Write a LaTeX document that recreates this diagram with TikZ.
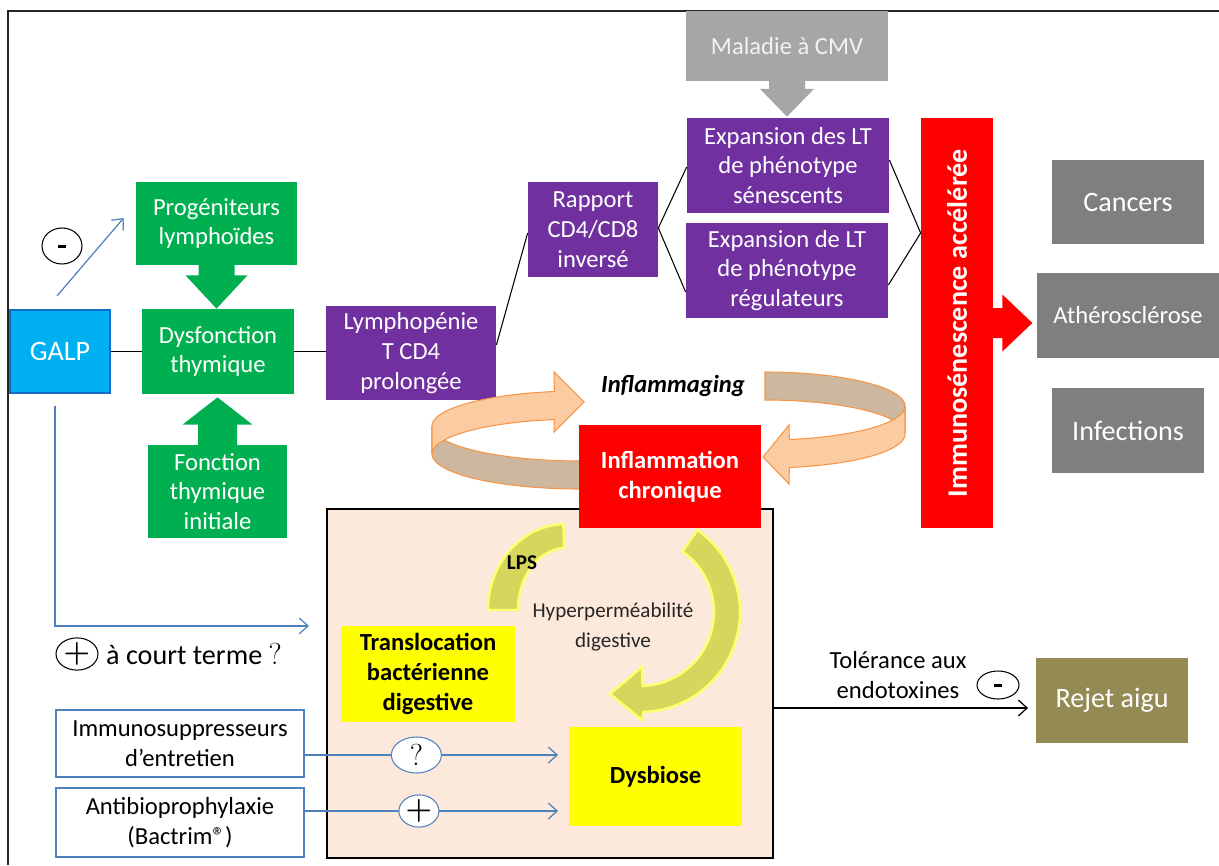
\documentclass[tikz,border=0pt]{standalone}
\usepackage{amsmath}
\usepackage{fontspec}
\setmainfont{Carlito}
\usetikzlibrary{arrows.meta, positioning, shapes.geometric, calc}
\definecolor{galpblue}{RGB}{0,176,240}
\definecolor{galpedge}{RGB}{20,110,200}
\definecolor{thymgreen}{RGB}{0,176,80}
\definecolor{lymphpurple}{RGB}{112,48,160}
\definecolor{cmvgray}{RGB}{166,166,166}
\definecolor{outgray}{RGB}{127,127,127}
\definecolor{inflred}{RGB}{255,0,0}
\definecolor{gutpeach}{RGB}{252,233,219}
\definecolor{gutyellow}{RGB}{255,255,0}
\definecolor{rejetolive}{RGB}{148,138,84}
\definecolor{ribbontan}{RGB}{205,183,158}
\definecolor{ribbonorange}{RGB}{251,203,162}
\definecolor{ribbonedge}{RGB}{247,150,70}
\definecolor{arcolive}{RGB}{214,214,92}
\definecolor{arcglow}{RGB}{255,255,110}
\definecolor{lineblue}{RGB}{79,129,189}
\tikzset{
  wh/.style 2 args = {minimum width=#1*0.02cm, minimum height=#2*0.02cm},
  box/.style       = {rectangle, align=center, inner sep=2pt, text=white,
                      font=\fontsize{14}{17}\selectfont},
  galpbox/.style   = {box, fill=galpblue, draw=galpedge, line width=1.2pt,
                      font=\fontsize{16}{19}\selectfont},
  thym/.style      = {box, fill=thymgreen},
  lymph/.style     = {box, fill=lymphpurple},
  outcome/.style   = {box, fill=outgray, font=\fontsize{16}{19}\selectfont},
  gutbox/.style    = {box, fill=gutyellow, text=black, font=\fontsize{14}{17}\selectfont\bfseries},
  treat/.style     = {box, fill=white, text=black, draw=lineblue, line width=1.2pt},
  link/.style      = {draw=black, line width=0.6pt},
  bluearrow/.style = {-{Straight Barb[length=5pt,width=9pt]}, draw=lineblue, line width=0.7pt},
  blackarrow/.style= {-{Straight Barb[length=5pt,width=9pt]}, draw=black, line width=0.7pt},
  sign/.style      = {ellipse, draw, fill=white, inner sep=0pt, line width=0.6pt},
  ribbon/.style    = {draw=ribbonedge, line width=0.6pt},
  gutarc/.style    = {fill=arcolive, draw=arcglow, line width=1.4pt},
}

\begin{document}
\begin{tikzpicture}[x=0.02cm, y=-0.02cm]
  \useasboundingbox (0,0) rectangle (1219,865);
  % cadre
  \draw[line width=1.1pt, black!85] (8,865) -- (8,11) -- (1219,11);

  % thymus
  \node[galpbox, wh={100}{83}] (galp) at (60,351.5) {GALP};
  \node[thym, wh={161}{83}] (prog) at (216.5,223.5) {Progéniteurs\\lymphoïdes};
  \node[thym, wh={152}{85}] (dysf) at (218,351.5) {Dysfonction\\thymique};
  \node[thym, wh={139}{93}] (fonc) at (217.5,491.5) {Fonction\\thymique\\initiale};
  \fill[thymgreen] ($(prog.south)+(-18,-1)$) -- ++(0,11) -- ++(-13,0)
        -- (prog.south |- dysf.north) -- ($(prog.south)+(31,10)$) -- ++(-13,0) -- ++(0,-11) -- cycle;
  \fill[thymgreen] ($(fonc.north)+(-19.5,1)$) -- ++(0,-21) -- ++(-15.5,0)
        -- ($(fonc.north |- dysf.south)+(0,3)$) -- ($(fonc.north)+(35,-20)$) -- ++(-15.5,0) -- ++(0,21) -- cycle;

  % lymphocytes T
  \node[lymph, wh={170}{94}] (lymph) at (411,353) {Lymphopénie\\T CD4\\prolongée};
  \node[lymph, wh={130}{95}] (ratio) at (593,229.5) {Rapport\\CD4/CD8\\inversé};
  \node[lymph, wh={202}{95}] (expsen) at (788,165.5) {Expansion des LT\\de phénotype\\sénescents};
  \node[lymph, wh={202}{95}] (expreg) at (787,270.5) {Expansion de LT\\de phénotype\\régulateurs};
  \node[box, fill=cmvgray, text=white!95!black, wh={202}{70}] (cmv) at (787,46.5) {Maladie à CMV};
  \fill[cmvgray] ($(cmv.south)+(-18,-1)$) -- ++(0,8) -- ++(-9,0)
        -- ($(cmv.south |- expsen.north)+(0,-1)$) -- ($(cmv.south)+(27,7)$) -- ++(-9,0) -- ++(0,-8) -- cycle;

  \draw[link] (galp) -- (dysf);
  \draw[link] (dysf.east) -- (dysf.east -| lymph.west);
  \draw[link] ($(lymph.east)+(0,-8)$) -- ($(ratio.west)+(0,3.5)$);
  \draw[link] ($(ratio.east)+(0,-1.5)$) -- ($(expsen.west)+(0,1.5)$);
  \draw[link] ($(ratio.east)+(0,-1.5)$) -- ($(expreg.west)+(0,21.5)$);

  % immunosenescence
  \node[box, fill=inflred, wh={72}{410}, font=\fontsize{16}{19}\selectfont\bfseries] (imm) at (957,323)
        {\rotatebox{90}{Immunosénescence accélérée}};
  \coordinate (conv) at ($(imm.west)+(0,-90)$);
  \draw[link] ($(expsen.east)+(0,-5.5)$) -- (conv);
  \draw[link] ($(expreg.east)+(0,14.5)$) -- (conv);
  \node[outcome, wh={152}{84}] (cancer) at (1128,202) {Cancers};
  \node[outcome, wh={182}{85}, font=\fontsize{14}{17}\selectfont] (athero) at (1128,315.5) {Athérosclérose};
  \node[outcome, wh={152}{85}] (infect) at (1128,430.5) {Infections};
  \fill[inflred] ($(imm.east)+(-1,-15)$) -- ++(10,0) -- ++(0,-13.5) -- ($(imm.east)+(39,0)$)
        -- ($(imm.east)+(9,28.5)$) -- ++(0,-13.5) -- ++(-10,0) -- cycle;

  % inflammaging
  \node[font=\fontsize{14}{17}\selectfont\bfseries\itshape] (inflag) at (673,386) {Inflammaging};
  \filldraw[ribbon, fill=ribbontan]
        plot[domain=180:270, samples=40, variable=\t] ({580+148*cos(\t)}, {426-35*sin(\t)})
     -- plot[domain=270:180, samples=40, variable=\t] ({580+148*cos(\t)}, {454-35*sin(\t)}) -- cycle;
  \filldraw[ribbon, fill=ribbonorange]
        plot[domain=180:100, samples=40, variable=\t] ({580+148*cos(\t)}, {426-35*sin(\t)})
     -- (554,372) -- (584,402) -- (554,432)
     -- plot[domain=100:180, samples=40, variable=\t] ({580+148*cos(\t)}, {454-35*sin(\t)}) -- cycle;
  \filldraw[ribbon, fill=ribbontan]
        plot[domain=90:0, samples=40, variable=\t] ({765+140*cos(\t)}, {406-34*sin(\t)})
     -- plot[domain=0:90, samples=40, variable=\t] ({765+140*cos(\t)}, {434-34*sin(\t)}) -- cycle;
  \filldraw[ribbon, fill=ribbonorange]
        plot[domain=0:-80, samples=40, variable=\t] ({765+140*cos(\t)}, {406-34*sin(\t)})
     -- (789,425) -- (763,457) -- (789,484)
     -- plot[domain=-80:0, samples=40, variable=\t] ({765+140*cos(\t)}, {434-34*sin(\t)}) -- cycle;

  % intestin
  \node[draw, line width=1.2pt, fill=gutpeach, wh={446}{349}] (gut) at (550,683.5) {};
  \filldraw[gutarc]
        plot[domain=92:180, samples=40, variable=\t] ({566+78*cos(\t)}, {610-86*sin(\t)})
     -- plot[domain=180:92, samples=40, variable=\t] ({566+48*cos(\t)}, {610-62*sin(\t)}) -- cycle;
  \filldraw[gutarc]
        plot[domain=55:-88, samples=50, variable=\t] ({640+100*cos(\t)}, {612-100*sin(\t)})
     -- (642,720) -- (610,694) -- (642,667)
     -- plot[domain=-88:55, samples=50, variable=\t] ({640+74*cos(\t)}, {612-74*sin(\t)}) -- cycle;
  \node[box, fill=inflred, wh={182}{103}, font=\fontsize{14}{17}\selectfont\bfseries] (inflchr) at (670,476.5)
        {Inflammation\\chronique};
  \node[font=\fontsize{12}{14}\selectfont\bfseries] (lps) at (522,563) {LPS};
  \node[align=center, text=black!85, font=\fontsize{12}{17}\selectfont] (hyper) at (613,627)
        {Hyperperméabilité\\digestive};
  \node[gutbox, wh={174}{96}] (transloc) at (428,674) {Translocation\\bactérienne\\digestive};
  \node[gutbox, wh={173}{99}] (dysb) at (655.5,776.5) {Dysbiose};

  % GALP
  \draw[bluearrow] ($(galp.north)+(-3,-13)$) -- ($(prog.west)+(-12,-5.5)$);
  \node[sign, wh={40}{36}] (galpminus) at (62,246) {\rule[-2pt]{4.5pt}{1.7pt}};
  \draw[bluearrow] ($(galp.south)+(-5,12)$) |- ($(gut.north west)+(-17,118)$);
  \node[sign, wh={42}{30}, font=\fontsize{19}{20}\selectfont] (galpplus) at (77,654) {$\boldsymbol{+}$};
  \node[anchor=west, font=\fontsize{16}{19}\selectfont] (court) at (100,654) {à court terme $?$};

  % traitements
  \node[treat, wh={248}{67}] (imsup) at (180,743.5) {Immunosuppresseurs\\d’entretien};
  \node[treat, wh={248}{69}] (antibio) at (180,822.5) {Antibioprophylaxie\\(Bactrim®)};
  \draw[bluearrow] ($(imsup.east)+(0,11.5)$) -- ++(253,0)
        node[sign, pos=0.44, wh={50}{36}, font=\fontsize{17}{20}\selectfont] {$?$};
  \draw[bluearrow] ($(antibio.east)+(0,-11.5)$) -- ++(253,0)
        node[sign, pos=0.45, wh={40}{30}, font=\fontsize{19}{20}\selectfont] {$\boldsymbol{+}$};

  % rejet
  \node[box, fill=rejetolive, wh={152}{85}, font=\fontsize{16}{19}\selectfont] (rejet) at (1112,700.5) {Rejet aigu};
  \draw[blackarrow] ($(gut.east)+(0,24.5)$) -- ++(254,0);
  \node[align=center, font=\fontsize{14}{17}\selectfont] (tol) at (898,675) {Tolérance aux\\endotoxines};
  \node[sign, wh={42}{28}] (rejetminus) at (998,685) {\rule[-2pt]{4.5pt}{1.7pt}};
\end{tikzpicture}
\end{document}
